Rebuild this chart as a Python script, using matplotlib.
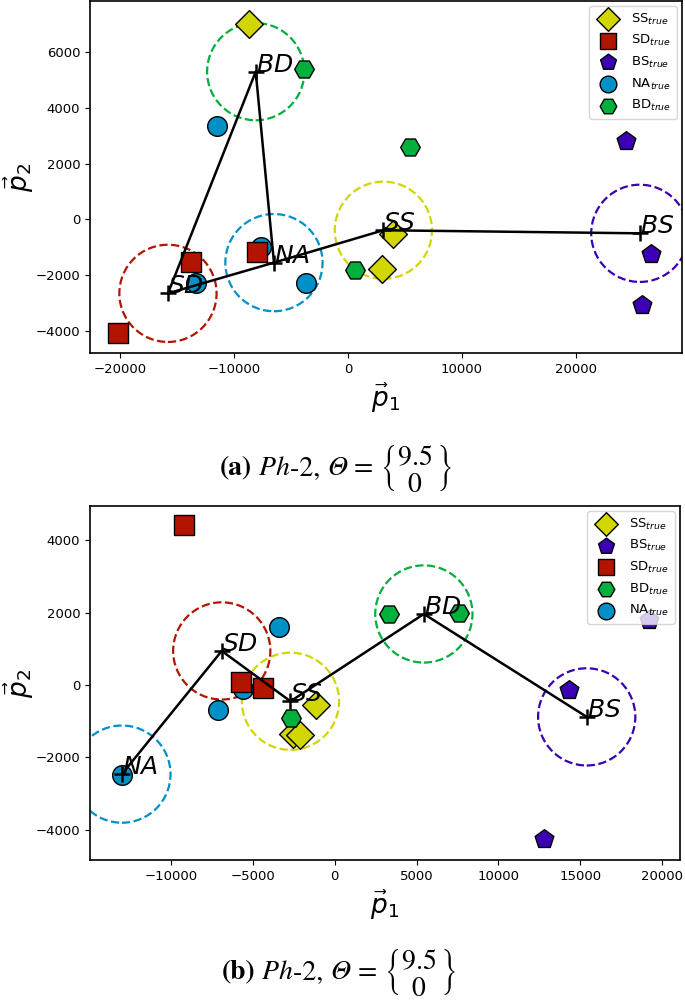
import numpy as np
import matplotlib.pyplot as plt
from matplotlib.offsetbox import TextArea, HPacker, AnnotationBbox

plt.rcParams['font.family'] = 'DejaVu Sans'
plt.rcParams['mathtext.fontset'] = 'dejavusans'

classes = ['SS', 'SD', 'BS', 'NA', 'BD']
colors = {'SS': '#d2d600', 'SD': '#b31400', 'BS': '#3c00b4', 'NA': '#0090c8', 'BD': '#00b03c'}
markers = {'SS': 'D', 'SD': 's', 'BS': 'p', 'NA': 'o', 'BD': 'H'}

# panel (a) - true points
a_SS_x = [-8700, 3950, 3000]
a_SS_y = [7000, -540, -1790]
a_SD_x = [-13800, -8000, -20200]
a_SD_y = [-1540, -1180, -4070]
a_BS_x = [24400, 26600, 25800]
a_BS_y = [2820, -1250, -3070]
a_NA_x = [-11500, -7600, -3700, -13300]
a_NA_y = [3360, -1000, -2280, -2290]
a_BD_x = [-3900, 5400, 600]
a_BD_y = [5400, 2580, -1820]
# panel (a) - centroids
a_cen = {'SD': (-15800, -2650), 'BD': (-8100, 5290), 'NA': (-6500, -1550),
         'SS': (3100, -390), 'BS': (25600, -500)}
a_path = ['BS', 'SS', 'NA', 'SD', 'BD', 'NA']
a_legend = ['SS', 'SD', 'BS', 'NA', 'BD']

# panel (b) - true points
b_SS_x = [-1160, -2570, -2140]
b_SS_y = [-550, -1350, -1380]
b_SD_x = [-9200, -5700, -4400]
b_SD_y = [4410, 80, -80]
b_BS_x = [14300, 12800, 19200]
b_BS_y = [-140, -4250, 1790]
b_NA_x = [-3400, -7100, -13000, -5600]
b_NA_y = [1600, -690, -2480, -120]
b_BD_x = [-2650, 3300, 7600]
b_BD_y = [-910, 1960, 1990]
# panel (b) - centroids
b_cen = {'NA': (-13000, -2460), 'SD': (-6900, 940), 'SS': (-2700, -450),
         'BD': (5450, 1960), 'BS': (15400, -880)}
b_path = ['NA', 'SD', 'SS', 'BD', 'BS']
b_legend = ['SS', 'BS', 'SD', 'BD', 'NA']

a_pts = {'SS': (a_SS_x, a_SS_y), 'SD': (a_SD_x, a_SD_y), 'BS': (a_BS_x, a_BS_y),
         'NA': (a_NA_x, a_NA_y), 'BD': (a_BD_x, a_BD_y)}
b_pts = {'SS': (b_SS_x, b_SS_y), 'SD': (b_SD_x, b_SD_y), 'BS': (b_BS_x, b_BS_y),
         'NA': (b_NA_x, b_NA_y), 'BD': (b_BD_x, b_BD_y)}

a_xlim = (-22640, 29300)
a_ylim = (-4786, 7820)
b_xlim = (-14950, 21100)
b_ylim = (-4830, 4940)

W, H = 685, 1002
fig = plt.figure(figsize=(W / 100, H / 100), dpi=100)
ax_a = fig.add_axes([90 / W, 1 - 353 / H, 592 / W, 352 / H])
ax_b = fig.add_axes([90 / W, 1 - 860 / H, 590 / W, 354 / H])


def draw(ax, pts, cen, path, order, xlim, ylim):
    handles = {}
    for c in ['NA', 'SS', 'BD', 'SD', 'BS']:
        x, y = pts[c]
        handles[c] = ax.scatter(x, y, s=200, marker=markers[c], c=colors[c],
                                edgecolors='k', linewidths=1, zorder=2)
    for c in classes:
        cx, cy = cen[c]
        ax.scatter([cx], [cy], s=4900, marker='o', facecolors='none',
                   edgecolors=colors[c], linestyles='--', linewidths=1.6, zorder=1)
    px = [cen[c][0] for c in path]
    py = [cen[c][1] for c in path]
    ax.plot(px, py, 'k-', lw=1.8, zorder=3)
    ax.plot([cen[c][0] for c in classes], [cen[c][1] for c in classes], '+',
            color='k', ms=11, mew=1.8, zorder=4)
    for c in classes:
        ax.text(cen[c][0], cen[c][1], '$' + c + '$', fontsize=18, zorder=5)
    ax.set_xlim(xlim)
    ax.set_ylim(ylim)
    ax.tick_params(labelsize=9.5)
    ax.set_xlabel(r'$\vec{p}_1$', fontsize=19)
    ax.set_ylabel(r'$\vec{p}_2$', fontsize=19, labelpad=0)
    for s in ax.spines.values():
        s.set_linewidth(1.2)
    ax.legend([handles[c] for c in order], [c + '$_{true}$' for c in order],
              loc='upper right', fontsize=9.5, markerscale=0.85,
              borderaxespad=0.4, handletextpad=0.8)


draw(ax_a, a_pts, a_cen, a_path, a_legend, a_xlim, a_ylim)
draw(ax_b, b_pts, b_cen, b_path, b_legend, b_xlim, b_ylim)


def caption(tag, xy):
    fs = 20
    base = dict(family='STIXGeneral', size=fs)
    parts = [
        TextArea('(' + tag + ')', textprops=dict(base, weight='bold')),
        TextArea(' Ph', textprops=dict(base, style='italic')),
        TextArea('-2, ', textprops=base),
        TextArea('\u0398', textprops=dict(base, style='italic')),
        TextArea(' = ', textprops=base),
        TextArea(r'$\left\{\genfrac{}{}{0}{0}{9.5}{0}\right\}$',
                 textprops=dict(base, math_fontfamily='stix')),
    ]
    box = HPacker(children=parts, align='baseline', pad=0, sep=0)
    ab = AnnotationBbox(box, xy, xycoords='figure fraction', frameon=False,
                        box_alignment=(0.5, 0.5), pad=0)
    fig.add_artist(ab)


caption('a', (336 / W, 1 - 468 / H))
caption('b', (339 / W, 1 - 972 / H))

fig.savefig('out.png', dpi=100)
